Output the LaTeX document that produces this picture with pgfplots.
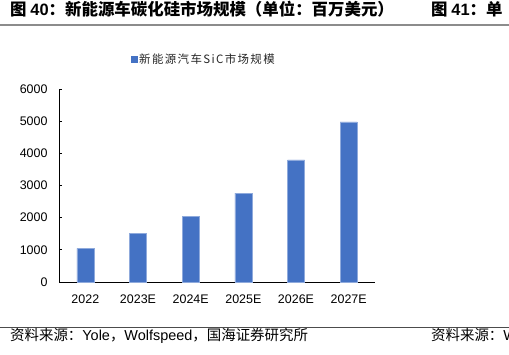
\documentclass[border=0pt]{standalone}
\usepackage{fontspec}
\usepackage{pgfplots}
\pgfplotsset{compat=1.18}
\setmainfont{Liberation Sans}
\newfontfamily\cjk{Noto Sans CJK SC}
\newfontfamily\cjkls[LetterSpace=12]{Noto Sans CJK SC}
\definecolor{barblue}{HTML}{4472C4}
\begin{document}
\begin{tikzpicture}
\useasboundingbox (0bp,0bp) rectangle (509bp,-355bp);
\clip (0bp,0bp) rectangle (509bp,-355bp);
% header
\node[anchor=base west, inner sep=0pt] at (10bp,-15bp)
  {\fontsize{16.5}{18}\selectfont\bfseries{\cjk 图 }40{\cjk ：新能源车碳化硅市场规模（单位：百万美元）}};
\node[anchor=base west, inner sep=0pt] at (431bp,-15bp)
  {\fontsize{16.5}{18}\selectfont\bfseries{\cjk 图 }41{\cjk ：单}};
\draw[gray!90, line width=2.2bp] (0bp,-24.7bp) -- (509bp,-24.7bp);
% footer
\draw[black!70, line width=1bp] (0bp,-327.8bp) -- (509bp,-327.8bp);
\node[anchor=base west, inner sep=0pt] at (10bp,-340bp)
  {\fontsize{14.5}{16}\selectfont{\cjk 资料来源：}Yole{\cjk ，}Wolfspeed{\cjk ，国海证券研究所}};
\node[anchor=base west, inner sep=0pt] at (431bp,-340bp)
  {\fontsize{14.5}{16}\selectfont{\cjk 资料来源：}W};
\begin{axis}[
  at={(59bp,-282bp)}, anchor=south west,
  scale only axis, width=316bp, height=193bp,
  xmin=-0.5, xmax=5.5, ymin=0, ymax=6000,
  xtick={0,1,2,3,4,5},
  xticklabels={2022,2023E,2024E,2025E,2026E,2027E},
  ytick={0,1000,2000,3000,4000,5000,6000},
  axis x line*=bottom, axis y line*=left,
  axis line style={black, line width=0.9bp, -},
  x tick style={draw=none},
  y tick style={black, line width=0.9bp},
  tick align=inside, major tick length=3bp,
  ybar, bar width=17bp,
  tick label style={font=\fontsize{12.5}{14}\selectfont, text=black},
  /pgf/number format/assume math mode=true,
  scaled y ticks=false,
  yticklabel style={/pgf/number format/1000 sep={}, xshift=-8bp},
  xticklabel style={yshift=-6bp},
  legend style={at={(0.228,1.155)}, anchor=west, draw=none, fill=none,
    inner sep=0pt, nodes={inner sep=1.5bp},
    font=\cjkls\fontsize{11.5}{13}\selectfont, text=black!85},
]
\addplot[fill=barblue, draw=barblue!60!white, line width=0.5bp,
  legend image code/.code={\fill[barblue] (0bp,-3bp) rectangle (6bp,3bp);}]
  coordinates {(0,1045) (1,1510) (2,2050) (3,2765) (4,3800) (5,4975)};
\addlegendentry{新能源汽车SiC市场规模}
\end{axis}
\end{tikzpicture}
\end{document}
